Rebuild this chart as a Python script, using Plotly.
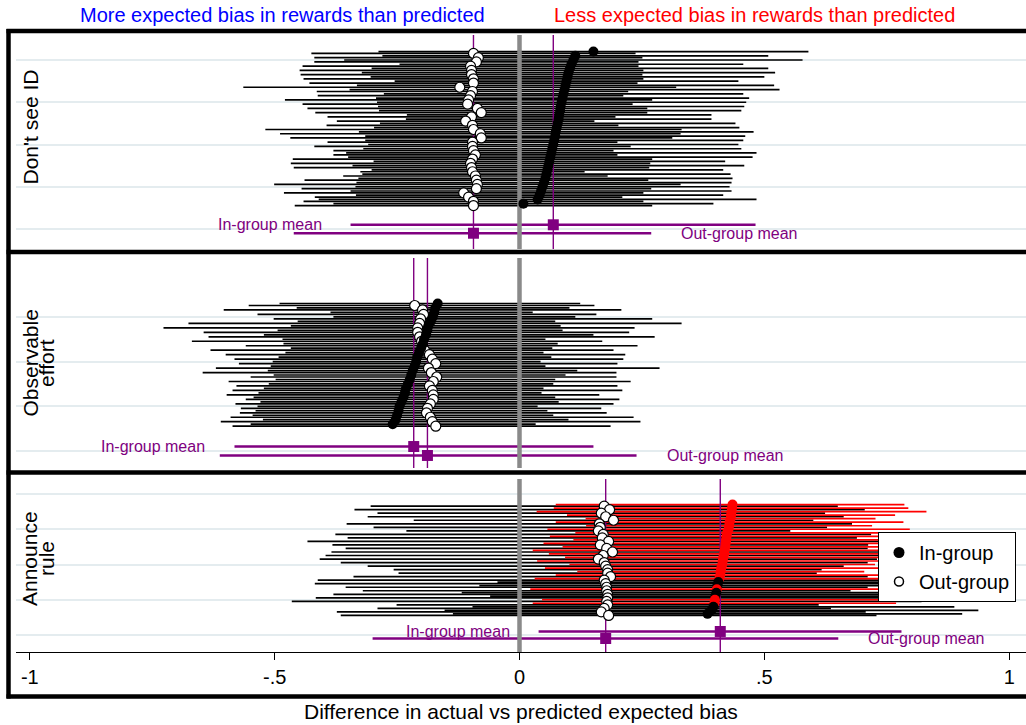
import plotly.graph_objects as go

# ---------------------------------------------------------------------------
# Estimates per respondent (listed from top row to bottom row of each panel)
# ---------------------------------------------------------------------------
panel_names = ["Don't see ID", "Observable effort", "Announce rule"]

# Don't see ID
p1_in_est = [0.151, 0.114, 0.110, 0.106, 0.103, 0.100, 0.098, 0.096, 0.094, 0.092,
             0.090, 0.088, 0.086, 0.084, 0.083, 0.081, 0.080, 0.078, 0.076, 0.074,
             0.073, 0.071, 0.069, 0.067, 0.065, 0.063, 0.061, 0.059, 0.057, 0.055,
             0.053, 0.050, 0.047, 0.044, 0.041, 0.037, 0.008]
p1_in_lo = [-0.288, -0.280, -0.358, -0.245, -0.302, -0.322, -0.304, -0.255, -0.332, -0.347,
            -0.277, -0.293, -0.291, -0.289, -0.287, -0.230, -0.232, -0.285, -0.297, -0.328,
            -0.315, -0.315, -0.309, -0.319, -0.354, -0.350, -0.298, -0.341, -0.302, -0.321,
            -0.329, -0.333, -0.335, -0.345, -0.334, -0.410, -0.380]
p1_in_hi = [0.590, 0.508, 0.578, 0.457, 0.508, 0.522, 0.500, 0.447, 0.520, 0.531,
            0.457, 0.469, 0.463, 0.459, 0.453, 0.392, 0.392, 0.441, 0.449, 0.478,
            0.461, 0.457, 0.447, 0.453, 0.484, 0.476, 0.420, 0.459, 0.416, 0.431,
            0.435, 0.433, 0.429, 0.433, 0.416, 0.484, 0.396]
p1_out_est = [-0.094, -0.084, -0.088, -0.100, -0.098, -0.098, -0.094, -0.094, -0.122, -0.096,
              -0.100, -0.104, -0.106, -0.086, -0.078, -0.098, -0.110, -0.096, -0.094, -0.080,
              -0.078, -0.096, -0.096, -0.094, -0.090, -0.096, -0.100, -0.098, -0.096, -0.090,
              -0.088, -0.086, -0.088, -0.114, -0.104, -0.094, -0.094]
p1_out_lo = [-0.425, -0.419, -0.419, -0.443, -0.449, -0.447, -0.441, -0.429, -0.564, -0.414,
             -0.412, -0.479, -0.443, -0.433, -0.417, -0.392, -0.373, -0.394, -0.519, -0.489,
             -0.468, -0.392, -0.419, -0.380, -0.380, -0.463, -0.467, -0.461, -0.325, -0.360,
             -0.439, -0.501, -0.445, -0.481, -0.418, -0.441, -0.459]
p1_out_hi = [0.237, 0.251, 0.243, 0.243, 0.253, 0.251, 0.253, 0.241, 0.320, 0.222,
             0.212, 0.271, 0.231, 0.261, 0.261, 0.196, 0.153, 0.202, 0.331, 0.329,
             0.312, 0.200, 0.227, 0.192, 0.200, 0.271, 0.267, 0.265, 0.133, 0.180,
             0.263, 0.329, 0.269, 0.253, 0.210, 0.253, 0.271]

# Observable effort
p2_in_est = [-0.167, -0.172, -0.174, -0.177, -0.181, -0.186, -0.188, -0.191, -0.195, -0.197,
             -0.201, -0.205, -0.209, -0.211, -0.214, -0.218, -0.221, -0.224, -0.228, -0.232,
             -0.234, -0.237, -0.241, -0.245, -0.247, -0.250, -0.253, -0.259]
p2_in_lo = [-0.490, -0.455, -0.386, -0.380, -0.453, -0.467, -0.494, -0.522, -0.484, -0.482,
            -0.467, -0.478, -0.492, -0.504, -0.508, -0.514, -0.502, -0.498, -0.512, -0.522,
            -0.533, -0.543, -0.529, -0.535, -0.539, -0.545, -0.524, -0.549]
p2_in_hi = [0.124, 0.102, 0.027, 0.114, 0.073, 0.084, 0.088, 0.151, 0.053, 0.078,
            0.067, 0.049, 0.065, 0.043, 0.053, 0.118, 0.094, 0.073, 0.069, 0.049,
            0.045, 0.073, 0.080, 0.037, 0.057, 0.069, 0.100, 0.033]
p2_out_est = [-0.214, -0.198, -0.196, -0.202, -0.204, -0.208, -0.208, -0.204, -0.200, -0.198,
              -0.194, -0.184, -0.178, -0.171, -0.186, -0.180, -0.169, -0.176, -0.184, -0.178,
              -0.176, -0.176, -0.182, -0.188, -0.190, -0.182, -0.178, -0.171]
p2_out_lo = [-0.553, -0.604, -0.535, -0.502, -0.676, -0.727, -0.645, -0.635, -0.669, -0.559,
             -0.631, -0.600, -0.582, -0.573, -0.620, -0.647, -0.549, -0.594, -0.578, -0.586,
             -0.598, -0.559, -0.580, -0.569, -0.571, -0.590, -0.610, -0.586]
p2_out_hi = [0.153, 0.208, 0.157, 0.271, 0.331, 0.235, 0.224, 0.276, 0.169, 0.241,
             0.192, 0.216, 0.212, 0.200, 0.286, 0.198, 0.198, 0.227, 0.200, 0.210,
             0.163, 0.204, 0.192, 0.167, 0.178, 0.233, 0.247, 0.186]

# Announce rule
p3_in_est = [0.435, 0.434, 0.433, 0.432, 0.431, 0.429, 0.428, 0.427, 0.424, 0.423,
             0.422, 0.421, 0.420, 0.419, 0.418, 0.416, 0.415, 0.414, 0.412, 0.411,
             0.410, 0.408, 0.406, 0.404, 0.403, 0.402, 0.400, 0.399, 0.398, 0.396,
             0.392, 0.384]
p3_in_lo = [0.074, 0.070, 0.035, 0.097, 0.135, 0.074, 0.136, 0.057, 0.114, 0.062,
            0.110, 0.049, 0.088, 0.027, 0.060, 0.093, 0.036, 0.102, 0.052, 0.118,
            0.074, 0.031, -0.045, -0.082, 0.022, -0.118, -0.060, 0.046, 0.027, -0.096,
            -0.153, -0.136]
p3_in_hi = [0.786, 0.794, 0.831, 0.767, 0.727, 0.784, 0.720, 0.797, 0.734, 0.784,
            0.734, 0.793, 0.752, 0.811, 0.776, 0.739, 0.794, 0.726, 0.772, 0.704,
            0.746, 0.785, 0.857, 0.890, 0.784, 0.922, 0.860, 0.752, 0.769, 0.888,
            0.937, 0.904]
p3_out_est = [0.173, 0.184, 0.167, 0.176, 0.192, 0.163, 0.165, 0.161, 0.171, 0.169,
              0.182, 0.165, 0.178, 0.190, 0.171, 0.161, 0.173, 0.176, 0.180, 0.180,
              0.186, 0.173, 0.176, 0.178, 0.178, 0.180, 0.180, 0.178, 0.180, 0.173,
              0.167, 0.182]
p3_out_lo = [-0.304, -0.337, -0.290, -0.310, -0.216, -0.353, -0.298, -0.231, -0.376, -0.351,
             -0.433, -0.382, -0.355, -0.384, -0.396, -0.408, -0.365, -0.310, -0.257, -0.247,
             -0.339, -0.412, -0.418, -0.355, -0.320, -0.380, -0.416, -0.465, -0.251, -0.290,
             -0.373, -0.365]
p3_out_hi = [0.650, 0.705, 0.624, 0.662, 0.600, 0.679, 0.628, 0.553, 0.718, 0.689,
             0.797, 0.712, 0.711, 0.764, 0.738, 0.730, 0.711, 0.662, 0.617, 0.607,
             0.711, 0.758, 0.770, 0.711, 0.676, 0.740, 0.776, 0.821, 0.611, 0.636,
             0.707, 0.729]

# Pooled means with confidence intervals, one value per panel
mean_in = [0.069, -0.216, 0.410]
mean_in_lo = [-0.345, -0.582, 0.039]
mean_in_hi = [0.482, 0.151, 0.780]
mean_out = [-0.094, -0.188, 0.176]
mean_out_lo = [-0.461, -0.612, -0.300]
mean_out_hi = [0.269, 0.239, 0.651]

x_tick_vals = [-1, -0.5, 0, 0.5, 1]
x_tick_text = ["-1", "-.5", "0", ".5", "1"]

# ---------------------------------------------------------------------------
# Layout geometry (pixels of a 1026 x 725 canvas)
# ---------------------------------------------------------------------------
W, H = 1026, 725
FONT = "Liberation Sans, Arial, Helvetica, sans-serif"
PURPLE = "#800080"
RED = "#ff0000"
GRID = "#e4ecef"
CI_WIDTH = 1.7
DOT = 10

X0_PX, X_UNIT = 519.5, 489.7          # pixel of x = 0, pixels per unit
X_LEFT_PX = 16

# top px, bottom px, px of y = 0, px per y unit, grid ticks
geom = [
    dict(top=35, bottom=249, zero=229, unit=4.225, ticks=[0, 10, 20, 30, 40]),
    dict(top=258, bottom=468, zero=451, unit=4.47, ticks=[0, 10, 20, 30]),
    dict(top=479, bottom=652, zero=635, unit=3.525, ticks=[0, 10, 20, 30, 40]),
]

panels = [
    (p1_in_est, p1_in_lo, p1_in_hi, p1_out_est, p1_out_lo, p1_out_hi),
    (p2_in_est, p2_in_lo, p2_in_hi, p2_out_est, p2_out_lo, p2_out_hi),
    (p3_in_est, p3_in_lo, p3_in_hi, p3_out_est, p3_out_lo, p3_out_hi),
]


def segments(lo, hi, ys):
    xs, yy = [], []
    for a, b, c in zip(lo, hi, ys):
        xs += [a, b, None]
        yy += [c, c, None]
    return xs, yy


fig = go.Figure()
layout_axes = {}
annotations = []

for p, (in_est, in_lo, in_hi, out_est, out_lo, out_hi) in enumerate(panels):
    g = geom[p]
    yname = "y" if p == 0 else f"y{p + 1}"
    ykey = "yaxis" if p == 0 else f"yaxis{p + 1}"
    r0 = -(g["bottom"] - g["zero"]) / g["unit"]
    r1 = (g["zero"] - g["top"]) / g["unit"]

    n = len(in_est)
    y_in = [5 + n - k for k in range(n)]          # rows 6 .. n+5, top row first
    y_out = [v - 0.45 for v in y_in]

    common = dict(xaxis="x", yaxis=yname, showlegend=False, hoverinfo="skip")

    # out-group intervals
    xs, yy = segments(out_lo, out_hi, y_out)
    fig.add_trace(go.Scatter(x=xs, y=yy, mode="lines",
                             line=dict(color="black", width=CI_WIDTH), **common))

    # in-group intervals: red when the whole interval is above zero
    sig = [lo > 0 for lo in in_lo]
    for flag, col in ((False, "black"), (True, RED)):
        idx = [i for i in range(n) if sig[i] == flag]
        if not idx:
            continue
        xs, yy = segments([in_lo[i] for i in idx], [in_hi[i] for i in idx],
                          [y_in[i] for i in idx])
        fig.add_trace(go.Scatter(x=xs, y=yy, mode="lines",
                                 line=dict(color=col, width=CI_WIDTH), **common))

    # pooled mean intervals
    fig.add_trace(go.Scatter(x=[mean_in_lo[p], mean_in_hi[p], None, mean_out_lo[p], mean_out_hi[p]],
                             y=[1, 1, None, -1, -1], mode="lines",
                             line=dict(color=PURPLE, width=2.5), **common))

    # zero reference line
    fig.add_trace(go.Scatter(x=[0, 0], y=[r0, r1], mode="lines",
                             line=dict(color="#8a8a8a", width=4.5), **common))

    # vertical lines at the pooled means
    fig.add_trace(go.Scatter(x=[mean_in[p], mean_in[p], None, mean_out[p], mean_out[p]],
                             y=[r0, r1, None, r0, r1], mode="lines",
                             line=dict(color=PURPLE, width=1.4), **common))

    # out-group point estimates
    fig.add_trace(go.Scatter(x=out_est, y=y_out, mode="markers",
                             marker=dict(size=DOT, color="white",
                                         line=dict(color="black", width=1.2)), **common))

    # in-group point estimates
    fig.add_trace(go.Scatter(x=in_est, y=y_in, mode="markers",
                             marker=dict(size=DOT, color=[RED if s else "black" for s in sig],
                                         line=dict(width=0)), **common))

    # pooled mean markers
    fig.add_trace(go.Scatter(x=[mean_in[p], mean_out[p]], y=[1, -1], mode="markers",
                             marker=dict(symbol="square", size=11, color=PURPLE), **common))

    annotations.append(dict(x=mean_in_lo[p], y=1, xref="x", yref=yname, text="In-group mean",
                            showarrow=False, xanchor="right", yanchor="middle", xshift=-27,
                            font=dict(family=FONT, size=16, color=PURPLE)))
    annotations.append(dict(x=mean_out_hi[p], y=-1, xref="x", yref=yname, text="Out-group mean",
                            showarrow=False, xanchor="left", yanchor="middle", xshift=28,
                            font=dict(family=FONT, size=16, color=PURPLE)))

    layout_axes[ykey] = dict(domain=[1 - g["bottom"] / H, 1 - g["top"] / H],
                             range=[r0, r1], showticklabels=False, ticks="",
                             tickvals=g["ticks"], showgrid=True, gridcolor=GRID,
                             gridwidth=1.5, zeroline=False, showline=False,
                             fixedrange=True)

# legend-only entries
fig.add_trace(go.Scatter(x=[None], y=[None], mode="markers", name="In-group",
                         marker=dict(size=11, color="black"), xaxis="x", yaxis="y3"))
fig.add_trace(go.Scatter(x=[None], y=[None], mode="markers", name="Out-group",
                         marker=dict(size=9, color="white", line=dict(color="black", width=1.5)),
                         xaxis="x", yaxis="y3"))

# panel titles (rotated)
label_specs = [
    ("Don't see ID", 29.5, 127),
    ("Observable", 29.5, 363), ("effort", 46, 363),
    ("Announce", 29, 559), ("rule", 46, 559),
]
for txt, xp, yp in label_specs:
    annotations.append(dict(x=xp / W, y=1 - yp / H, xref="paper", yref="paper", text=txt,
                            textangle=-90, showarrow=False, xanchor="center", yanchor="middle",
                            font=dict(family=FONT, size=21, color="black")))

# headers and axis title
annotations.append(dict(x=282 / W, y=1 - 15 / H, xref="paper", yref="paper",
                        text="More expected bias in rewards than predicted", showarrow=False,
                        xanchor="center", yanchor="middle",
                        font=dict(family=FONT, size=20, color="#0000ff")))
annotations.append(dict(x=754 / W, y=1 - 15 / H, xref="paper", yref="paper",
                        text="Less expected bias in rewards than predicted", showarrow=False,
                        xanchor="center", yanchor="middle",
                        font=dict(family=FONT, size=20, color=RED)))
annotations.append(dict(x=520.5 / W, y=1 - 711 / H, xref="paper", yref="paper",
                        text="Difference in actual vs predicted expected bias", showarrow=False,
                        xanchor="center", yanchor="middle",
                        font=dict(family=FONT, size=21, color="black")))

# panel frames
shapes = []
BW = 4.5
for yy in (31, 252, 472.5, 696.5):
    shapes.append(dict(type="line", xref="paper", yref="paper", x0=6.5 / W, x1=1.02,
                       y0=1 - yy / H, y1=1 - yy / H, line=dict(color="black", width=BW)))
shapes.append(dict(type="line", xref="paper", yref="paper", x0=8.5 / W, x1=8.5 / W,
                   y0=1 - 698.5 / H, y1=1 - 29 / H, line=dict(color="black", width=BW)))

fig.update_layout(
    width=W, height=H,
    margin=dict(l=0, r=0, t=0, b=0),
    paper_bgcolor="white", plot_bgcolor="white",
    font=dict(family=FONT, color="black"),
    xaxis=dict(domain=[X_LEFT_PX / W, 1],
               range=[(X_LEFT_PX - X0_PX) / X_UNIT, (W - X0_PX) / X_UNIT],
               anchor="y3", showline=True, linecolor="black", linewidth=1,
               ticks="outside", ticklen=7, tickwidth=1, tickcolor="black",
               tickvals=x_tick_vals, ticktext=x_tick_text,
               tickfont=dict(family=FONT, size=20, color="black"),
               showgrid=False, zeroline=False, fixedrange=True),
    showlegend=True,
    legend=dict(x=878 / W, y=1 - 532 / H, xanchor="left", yanchor="top",
                bgcolor="white", bordercolor="black", borderwidth=1,
                font=dict(family=FONT, size=20, color="black"),
                itemwidth=30, tracegroupgap=0),
    annotations=annotations,
    shapes=shapes,
    **layout_axes,
)

fig.write_html("out.html")
